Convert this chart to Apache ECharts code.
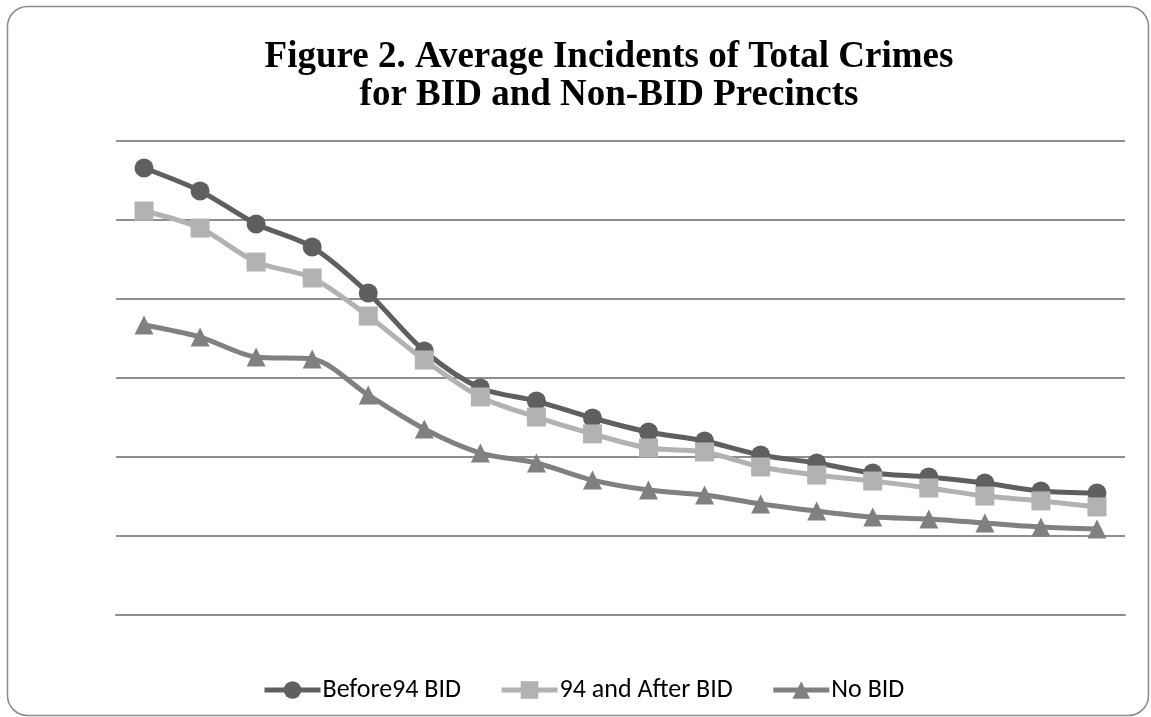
<!DOCTYPE html>
<html>
<head>
<meta charset="utf-8">
<script src="https://cdn.jsdelivr.net/npm/echarts@6/dist/echarts.min.js"></script>
<style>
html,body{margin:0;padding:0;background:#fff;}
#chart{width:1151px;height:717px;}
</style>
</head>
<body>
<div id="chart"></div>
<script>
// Data (axis labels are hidden in the original)
const categories = ['1','2','3','4','5','6','7','8','9','10','11','12','13','14','15','16','17','18'];
const before94BID = [2829,2684,2475,2329,2038,1671,1437,1354,1247,1158,1101,1013,962,899,873,835,785,772];
const after94BID  = [2557,2449,2234,2133,1892,1614,1380,1253,1146,1057,1032,937,886,848,804,753,722,684];
const noBID       = [1835,1759,1633,1620,1392,1177,1025,962,854,791,759,703,658,620,608,582,557,544];
const seriesNames = ['Before94 BID','94 and After BID','No BID'];
const yMin = 0, yMax = 3000, yInterval = 500;

const chart = echarts.init(document.getElementById('chart'), null, {renderer:'canvas'});
const legendFont = 'Carlito, Lato, "Liberation Sans", sans-serif';

function mkSeries(name, data, symbol, color) {
  return {
    name: name, type: 'line', data: data,
    symbol: symbol, symbolSize: 19, showSymbol: true,
    smooth: 0.3,
    lineStyle: {color: color, width: 5},
    itemStyle: {color: color},
    emphasis: {disabled: true},
    animation: false
  };
}

chart.setOption({
  animation: false,
  backgroundColor: '#ffffff',
  title: {
    text: 'Figure 2. Average Incidents of Total Crimes\nfor BID and Non-BID Precincts',
    left: 609, top: 38, padding: 0,
    textAlign: 'center',
    textStyle: {
      fontFamily: '"Liberation Serif", "Times New Roman", serif',
      fontWeight: 'bold', fontSize: 37, lineHeight: 38, color: '#000'
    }
  },
  graphic: [{
    type: 'rect', silent: true, z: -1,
    shape: {x: 7.5, y: 6.5, width: 1141, height: 709, r: 20},
    style: {fill: 'none', stroke: '#8a8a8a', lineWidth: 1.5}
  }],
  legend: {
    data: seriesNames,
    left: 262, top: 677, padding: 0,
    itemWidth: 56, itemHeight: 22, itemGap: 38,
    lineStyle: {width: 5},
    textStyle: {fontFamily: legendFont, fontSize: 26, color: '#000', padding: [0,0,0,-3]}
  },
  grid: {left: 116, right: 26, top: 141, bottom: 102, containLabel: false},
  xAxis: {
    type: 'category', data: categories, boundaryGap: true,
    axisLine: {show: true, lineStyle: {color: '#8e8e8e', width: 2}},
    axisTick: {show: false}, axisLabel: {show: false}, splitLine: {show: false}
  },
  yAxis: {
    type: 'value', min: yMin, max: yMax, interval: yInterval,
    axisLine: {show: false}, axisTick: {show: false}, axisLabel: {show: false},
    splitLine: {show: true, lineStyle: {color: '#8e8e8e', width: 2}}
  },
  series: [
    mkSeries(seriesNames[0], before94BID, 'circle', '#5f5f5f'),
    mkSeries(seriesNames[1], after94BID, 'rect', '#b2b2b2'),
    mkSeries(seriesNames[2], noBID, 'triangle', '#808080')
  ]
});
</script>
</body>
</html>
